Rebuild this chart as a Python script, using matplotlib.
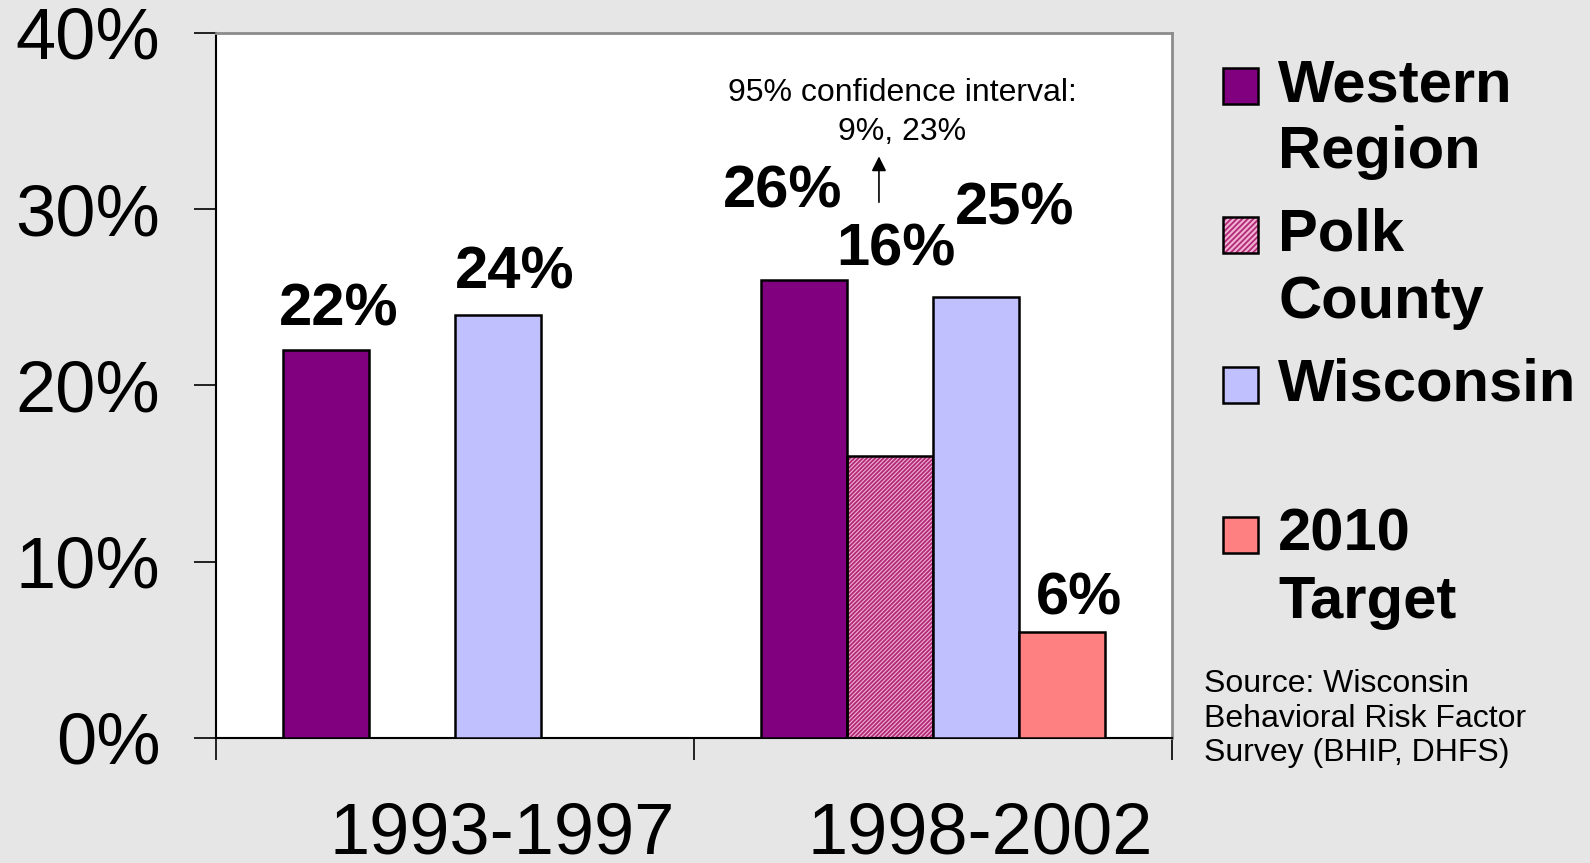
"""Western region vs Polk County vs Wisconsin, two survey periods, with 2010 target."""
import numpy as np
import matplotlib
matplotlib.use("Agg")
import matplotlib.pyplot as plt
from matplotlib.patches import Rectangle
from matplotlib.transforms import ScaledTranslation

plt.rcParams['font.family'] = ['Liberation Sans', 'DejaVu Sans']
plt.rcParams['hatch.linewidth'] = 1.3

periods = ["1993-1997", "1998-2002"]
series = ["Western\nRegion", "Polk\nCounty", "Wisconsin", "2010\nTarget"]
western = [22, 26]
polk = [np.nan, 16]
wisconsin = [24, 25]
target = [np.nan, 6]
yticks = [0, 10, 20, 30, 40]
ci_note = "95% confidence interval:\n9%, 23%"
source_note = "Source: Wisconsin\nBehavioral Risk Factor\nSurvey (BHIP, DHFS)"

colors = ["#800080", "#f2b0d2", "#c0c0ff", "#ff8080"]
hatch_col = "#b02a78"

# value label placement (hand tuned like the original slide): dx in bar widths, y in %
label_dx = {("W", 0): 0.15, ("S", 0): 0.2, ("W", 1): -0.25, ("P", 1): 0.07,
            ("S", 1): 0.45, ("T", 1): 0.2}
label_y = {("W", 0): 24.3, ("S", 0): 26.4, ("W", 1): 31.0, ("P", 1): 27.7,
           ("S", 1): 30.0, ("T", 1): 7.9}

fig = plt.figure(figsize=(15.9, 8.63), dpi=100, facecolor="#e6e6e6")
ax = fig.add_axes([0.1358, 0.1449, 0.6013, 0.8169])
ax.set_facecolor("white")

x = np.arange(len(periods))
w = 0.18
offs = [-1.5 * w, -0.5 * w, 0.5 * w, 1.5 * w]
keys = ["W", "P", "S", "T"]
data = [western, polk, wisconsin, target]

for k, vals, off, c in zip(keys, data, offs, colors):
    if k == "P":
        # hatched fill first, black outline on top
        ax.bar(x + off, vals, w, color=c, edgecolor=hatch_col, hatch="////////",
               linewidth=0, zorder=2)
        ax.bar(x + off, vals, w, fill=False, edgecolor="black", linewidth=1.8, zorder=3)
    else:
        ax.bar(x + off, vals, w, color=c, edgecolor="black", linewidth=1.8, zorder=3)
    for i, v in enumerate(vals):
        if np.isnan(v):
            continue
        ax.text(x[i] + off + label_dx[(k, i)] * w, label_y[(k, i)], f"{v:.0f}%",
                ha="center", va="center", fontsize=43, fontweight="bold")

ax.text(0.935, 35.5, ci_note, ha="center", va="center", fontsize=23, linespacing=1.38)
ax.annotate("", xy=(0.887, 33.0), xytext=(0.887, 30.4),
            arrowprops=dict(arrowstyle="-|>", color="black", lw=1.2,
                            mutation_scale=22, shrinkA=0, shrinkB=0))

ax.set_xlim(-0.5, 1.5)
ax.set_ylim(0, 40)
ax.set_yticks(yticks)
ax.set_yticklabels([f"{t}%" for t in yticks], fontsize=52)
ax.tick_params(axis="y", direction="out", length=16, width=1.2, pad=24)
ax.set_xticks(x)
ax.set_xticklabels(periods, fontsize=52)
ax.set_xticks([-0.5, 0.5, 1.5], minor=True)
ax.tick_params(axis="x", which="major", length=0, pad=46)
ax.tick_params(axis="x", which="minor", direction="out", length=16, width=1.2)
shift = ScaledTranslation(0.47, 0, fig.dpi_scale_trans)
for lab in ax.get_xticklabels():
    lab.set_transform(lab.get_transform() + shift)

for s in ["top", "right"]:
    ax.spines[s].set_color("#8c8c8c")
    ax.spines[s].set_linewidth(2)
ax.spines["left"].set_linewidth(1.5)
ax.spines["bottom"].set_linewidth(1.5)

# legend, laid out by hand to keep the gap before the target entry
entry_y = [86, 235, 385, 535]
H = 863.0
for lab, c, ypx in zip(series, colors, entry_y):
    yc = 1 - ypx / H
    rect = (0.769, yc - 0.0203)
    if c == colors[1]:
        fig.patches.append(Rectangle(rect, 0.022, 0.0406, facecolor=c, edgecolor=hatch_col,
                                     hatch="//////", linewidth=0, transform=fig.transFigure))
        fig.patches.append(Rectangle(rect, 0.022, 0.0406, fill=False, edgecolor="black",
                                     linewidth=1.8, transform=fig.transFigure))
    else:
        fig.patches.append(Rectangle(rect, 0.022, 0.0406, facecolor=c, edgecolor="black",
                                     linewidth=1.8, transform=fig.transFigure))
    for j, line in enumerate(lab.split("\n")):
        fig.text(0.804, yc - j * 67 / H, line, fontsize=43, fontweight="bold",
                 ha="left", va="center")

fig.text(0.757, 1 - 669 / H, source_note, fontsize=23, ha="left", va="top",
         linespacing=1.2)

fig.savefig("out.png", dpi=100, facecolor=fig.get_facecolor())
